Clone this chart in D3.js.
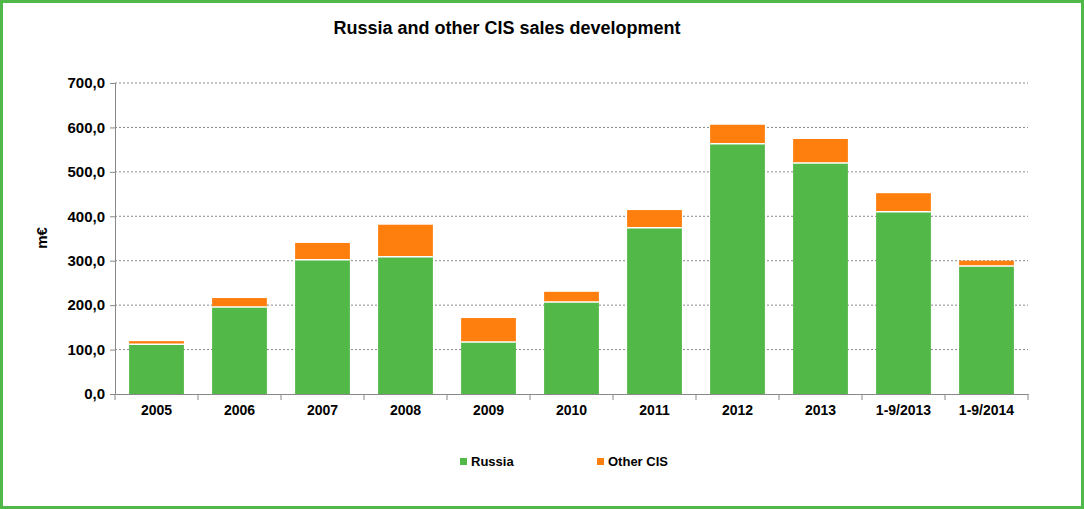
<!DOCTYPE html>
<html><head><meta charset="utf-8">
<script src="https://cdn.jsdelivr.net/npm/d3@7"></script>
<style>body{margin:0;background:#fff}svg{font-family:Arial,"Liberation Sans",sans-serif}</style>
</head><body><div id="chart"></div>
<script>
var categories = ["2005","2006","2007","2008","2009","2010","2011","2012","2013","1-9/2013","1-9/2014"];
var russia = [112,196,302,309,117,207,374,563,520,410,288];
var otherCIS = [7,20,38,72,54,23,40,43,54,42,12];
var yTicks = [0,100,200,300,400,500,600,700];

var W = 1084, H = 509;
var svg = d3.select("#chart").append("svg").attr("width", W).attr("height", H);
svg.append("rect").attr("x",1.5).attr("y",1.5).attr("width",W-3).attr("height",H-3)
    .attr("fill","#fff").attr("stroke","#4fb848").attr("stroke-width",3);

var x = d3.scaleBand().domain(categories).range([115,1028]).paddingInner(0.34).paddingOuter(0.17);
var y = d3.scaleLinear().domain([0,700]).range([394,83]);
var fmt = function(d){ return d3.format(".1f")(d).replace(".", ","); };

// grid
svg.selectAll("line.grid").data(yTicks.slice(1)).enter().append("line")
    .attr("x1",115).attr("x2",1028).attr("y1",y).attr("y2",y)
    .attr("stroke","#888").attr("stroke-dasharray","2,2").attr("stroke-width",1);

var green = "#52b848", orange = "#ff7f0e";
var g = svg.append("g");
categories.forEach(function(c,i){
    g.append("rect").attr("x",x(c)).attr("width",x.bandwidth())
        .attr("y",y(russia[i])).attr("height",y(0)-y(russia[i]))
        .attr("fill",green);
    g.append("rect").attr("x",x(c)).attr("width",x.bandwidth())
        .attr("y",y(russia[i]+otherCIS[i])).attr("height",y(russia[i])-y(russia[i]+otherCIS[i]))
        .attr("fill",orange);
    g.append("line").attr("x1",x(c)).attr("x2",x(c)+x.bandwidth())
        .attr("y1",y(russia[i])).attr("y2",y(russia[i])).attr("stroke","#fff").attr("stroke-width",1.5);
});

var ya = svg.append("g").attr("transform","translate(115,0)")
    .call(d3.axisLeft(y).tickValues(yTicks).tickFormat(fmt).tickSize(5));
ya.selectAll("text").attr("font-size",15).attr("font-weight","bold").attr("fill","#000").attr("dx",-2);
ya.select(".domain").attr("stroke","#888");
ya.selectAll(".tick line").attr("stroke","#888");

var xa = svg.append("g").attr("transform","translate(0,394)")
    .call(d3.axisBottom(x).tickSize(0));
xa.select(".domain").attr("stroke","#888");
xa.selectAll("text").attr("font-size",14).attr("font-weight","bold").attr("fill","#000").attr("dy","1.3em");
var step = x.step();
xa.selectAll("line.sep").data(d3.range(categories.length+1)).enter().append("line")
    .attr("x1",function(i){return 115+i*step;}).attr("x2",function(i){return 115+i*step;})
    .attr("y1",0).attr("y2",6).attr("stroke","#888");

svg.append("text").attr("x",507).attr("y",34).attr("text-anchor","middle")
    .attr("font-size",18).attr("font-weight","bold").text("Russia and other CIS sales development");
svg.append("text").attr("transform","translate(47,238) rotate(-90)").attr("text-anchor","middle")
    .attr("font-size",15).attr("font-weight","bold").text("m€");

var legend = [["Russia",green,460],["Other CIS",orange,597]];
legend.forEach(function(l){
    svg.append("rect").attr("x",l[2]).attr("y",458).attr("width",7).attr("height",7).attr("fill",l[1]);
    svg.append("text").attr("x",l[2]+11).attr("y",466).attr("font-size",13).attr("font-weight","bold").text(l[0]);
});
</script></body></html>
